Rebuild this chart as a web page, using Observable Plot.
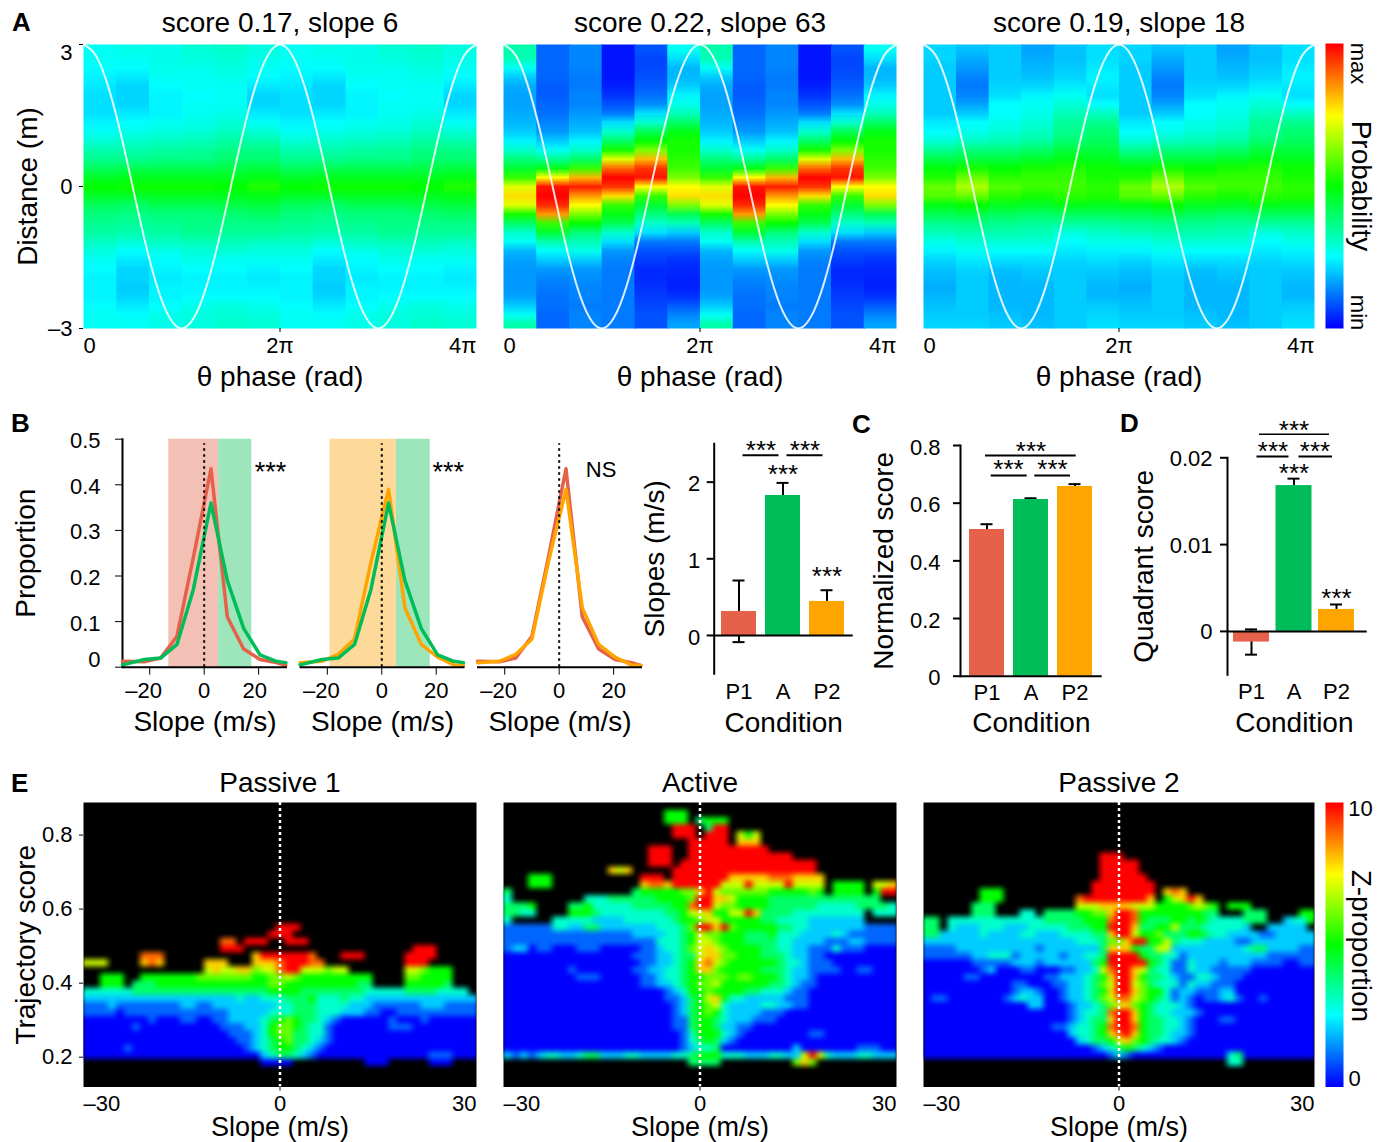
<!DOCTYPE html>
<html><head><meta charset="utf-8">
<script src="https://cdn.jsdelivr.net/npm/d3@7"></script>
<script src="https://cdn.jsdelivr.net/npm/@observablehq/plot@0.6"></script>
<style>html,body{margin:0;padding:0;background:#fff}#root{position:relative;width:1389px;height:1142px;overflow:hidden;font-family:"Liberation Sans",Arial,sans-serif}
.letter{position:absolute;font-weight:bold;font-size:26px;line-height:26px}</style></head>
<body><div id="root"></div>
<script>
// ---------- DATA ----------
const titlesA = ["score 0.17, slope 6","score 0.22, slope 63","score 0.19, slope 18"];
const titlesE = ["Passive 1","Active","Passive 2"];
// panel A: probability (percent of colour range), 6 phase bins x 31 distance bins (3 m to -3 m); the cycle repeats
const a1 = [
[26,26,25,24,23,22,22,22,24,26,29,33,36,41,46,50,46,41,38,36,34,31,28,26,25,24,24,24,25,26,26],
[27,26,25,23,21,21,21,23,25,27,30,33,36,42,47,51,46,40,37,35,33,29,25,23,21,21,20,21,23,25,26],
[27,27,27,26,25,24,24,24,26,28,31,34,37,42,47,51,47,42,38,36,34,31,27,25,24,23,24,24,25,27,27],
[29,28,27,26,26,25,26,26,27,29,32,35,37,42,47,51,47,42,38,37,36,32,29,27,25,24,24,25,27,28,28],
[30,29,28,27,26,26,26,27,29,31,34,37,39,43,47,50,47,43,39,37,35,32,29,26,25,24,24,25,28,29,30],
[28,27,26,25,23,21,21,23,26,29,33,37,39,44,48,53,48,44,40,37,35,31,28,26,24,23,24,25,27,28,29]];
const a2 = [
[33,32,26,20,17,16,16,17,18,20,24,30,38,45,55,72,78,72,52,40,30,26,18,16,15,15,15,16,20,26,33],
[10,10,10,10,9,9,10,11,13,15,20,26,36,48,75,98,100,96,85,55,45,33,25,20,15,13,12,11,11,10,10],
[13,13,13,12,12,13,13,15,17,19,24,30,40,55,82,97,85,75,62,50,38,32,27,20,15,14,13,13,12,13,13],
[2,2,2,2,3,5,8,12,22,30,40,52,72,90,100,95,78,55,48,42,30,22,15,13,12,12,12,12,12,12,12],
[8,7,7,8,9,11,14,22,30,42,50,62,82,95,98,75,55,45,38,30,22,12,8,6,4,4,5,6,7,8,8],
[26,22,18,18,20,24,27,32,40,48,52,52,54,56,62,75,78,62,42,32,20,12,8,5,4,3,3,5,9,13,16]];
const a3 = [
[21,21,20,20,20,20,20,20,23,25,29,36,43,49,53,60,58,48,42,36,32,27,24,21,19,18,17,18,19,20,21],
[19,17,15,13,12,13,16,20,25,27,31,38,44,52,60,67,60,50,43,37,33,29,26,23,21,20,20,20,20,20,21],
[20,20,20,20,21,22,25,25,27,29,32,38,44,50,54,58,54,47,41,36,33,29,25,22,19,18,18,18,18,19,20],
[16,17,18,19,21,24,26,27,29,31,34,40,46,52,55,56,52,46,40,35,32,29,25,22,20,19,18,18,18,18,19],
[19,19,20,21,23,26,29,32,35,36,39,44,48,53,55,56,54,48,41,35,28,25,23,21,20,20,20,20,20,20,20],
[22,22,23,24,23,22,25,31,36,39,41,44,47,51,52,54,53,47,41,35,30,27,24,22,20,19,18,18,20,21,22]];
const thetaX = [0,.125,.25,.375,.5,.625,.75,.875,1,1.125,1.25,1.375,1.5,1.625,1.75,1.875,2,2.125,2.25,2.375,2.5,2.625,2.75,2.875,3,3.125,3.25,3.375,3.5,3.625,3.75,3.875,4];
const thetaY = [3,2.77,2.12,1.15,0,-1.15,-2.12,-2.77,-3,-2.77,-2.12,-1.15,0,1.15,2.12,2.77,3,2.77,2.12,1.15,0,-1.15,-2.12,-2.77,-3,-2.77,-2.12,-1.15,0,1.15,2.12,2.77,3];

// panel B
const slopeX = [-30,-22,-16,-10,-4,2.5,8.5,14.5,20.5,26.5,30];
const propP1 = [.013,.012,.02,.068,.24,.435,.11,.04,.017,.01,.004];
const propA  = [.005,.017,.02,.05,.17,.36,.19,.085,.027,.013,.01];
const propP2 = [.01,.013,.028,.062,.23,.39,.13,.05,.022,.005,.004];
const conds = ["P1","A","P2"];
// panels B (right), C, D
const slopeVal = [.313,1.826,.444], slopeHi = [.717,1.99,.59], slopeLo = [-.087,1.826,.444];
const normVal = [.5087,.6127,.658], normHi = [.527,.617,.666];
const quadVal = [-.00123,.0168,.00253], quadHi = [.00023,.0176,.0031], quadLo = [-.00268,.0168,.00253];

// panel E: Z-proportion levels, 49 slope bins x 40 score bins.
// "." = empty, 0-9, a = 10; "zN" = N zeros; spaces only group cells
const _ = ".".repeat(49);
const e1 = [_,_,_,_,_,_,_,_,_,_,_,_,_,_,_,_,_,
"........................aaa......................",
".......................aaa.......................",
".................99.aaa..aaa.....................",
".................aaa.....................aaa.....",
".......999...........8aaaaaa9...aaa.....aaaa.....",
"777....898.....888...8889aaa99..........aaa......",
"...............7877886779aa777677.......776555...",
"..555..55555556666666556676555555555....665555...",
"..555. 444 55555555555555 66 5555555554 4 .... 555554 ...",
"333333444444444444444445555444444443333344443333.",
"2222222222222222222322333444533343322222222222222",
"1112111111112211222222223344433332221111112221111",
"1111011111111111112222233344433322211001111111111",
"z8 1 000110011 22223 456 544 3 21 z6 1 z3 1 z6",
"z6 1 z10 11122 3566 543 3 1 z7 111 z8",
"z18 1112 3566 443 31 z18",
"z18 0112 3456 443 21 z18",
"z5 1 z13 012 3455 432 10 z18",
"z22 2344 32 1 z14 111 z3",
"......................0000.........000.....000...",
_,_,_];
const e2 = [_,
"....................555.",
"....................555.4555.",
".....................aaa.4aa.",
".....................aaa.aaa.757.",
".......................aaaaa.888.",
"..................aaa..aaaaaaaaaa.",
"..................aaa..aaaaaaaaaaaaa.",
"..................aaa.aaaaaaaaaaaaaaaaa.",
".............878.....aaaaaaaaaaaaaaaaaa.",
"...555...........aaa.aaaaaaa888889998888.",
"...555...........8998aaaaaa777a7777a7777.5555.778",
"4...............455555668a76666665555565.5555.5aa",
"3.........33344444455556aa887555544444444444444..",
"4445....4453333344444559aa76655554444443333344443",
"4433....5554333333334457785577a84444333333333.333",
"3.....333332222333333455677555554433332222222....",
"111111332244222222233346aa8a655555443322222221111",
"1111111111111111222233457665554445333222232111111",
"111111111111111111 13334 5776 5554444 3322221 11221111",
"122 01100011100000 112334 6787 6555544 3322111 3 1110000",
"z15 011122 344 788 66555444 322110 z8",
"z16 011223 4589 7 65555554 33211 100000000",
"0000000 0100 00 0001122 3345 88 655555444 32211 110011 000",
"00000000011100000 112334 556 665665554 3221 z10",
"z16 0112234 5667 5555554 43211 z10",
"z18 00123 556 55554433 32110 z10",
"z18 00112 4578 53322 2221110 z10",
"z19 0012 4567 32222 3322110 z10",
"z20 012 4565 3222211 100 z12",
"z20 011 4554 322211 100 z13",
"z20 011 4554 22110 z17",
"z21 01 3555 3210 z7 11 z9",
"z21 01 3454 21 z20",
"z22 1 2334 z9 2 z7 111 00",
"21212 33 22 344 22 233 222233 4555 3332223322 7a7 322233222",
"....................... 4444 ......... 686 ..........",
_,_,_];
const e3 = [_,_,_,_,_,_,_,
"......................aaa.",
"......................aaaaa.",
"......................aaaaa.",
"......................aaaaaa.",
".....................aaaaaaaa.",
".......555 ........... aaaaaaaa . 898 .",
".......555 ......... 9a aaaaaaa 8 . 57 8a8 .",
"......444 .......... 7778888777 55556765 . 555 .",
"......444 ... 33 . 444 45566 8aa9 5555555544 ... 444 .... 55",
"44 . 3333333333334 4444555 9aa9 544455454 3333 444 .. 233 5",
"44 . 32223332223 333344 455 aaa8 44557 4443 33332 ..2 2222 .",
"442 22223222233 222333 344 8aa7 55 6 444554 33222 211222 222 .",
"222222222222222222 23334 66 8 aa 55 74 33322 22112 2222222",
"1111222222222212222222 4 888 54477 222222 2223 44 222211",
"111111 22333 122 2221 22334 aaaa 54433 12222 222222 111111",
"00000011 111222 1222222 45 aaaaa 54311 322212 22111 10011",
"000000 012 00011000 11223 79 aa 87433 113221 111100 000000",
"00000 1100 0000001122 2345 8aa8 54432 113321 110 00000000",
"z11 1100 0112 23467 aa 764333 13221 110 z9",
"z11 12210 012 2345 8aa 86553 12211 1220 z9",
"0 110 000000 12322 0 0122 3467 99 76543 121 01123 1 00 1 000000",
"z13 22 00 012234 678 65433 321 z15",
"z18 12334 9aa8 543322 21 z14",
"z18 12344 8aa8 5443321 00 011 z10",
"z14 0011 23345 9aa9 544332 1 z15",
"z18 23345 89a8 544322 1 z15",
"z19 2344 5786 54332 1 z16",
"z21 12345432 1 z19",
"z23 121 z12 34 z9",
"...................................... 33 .........",
_,_,_];
const decode = rows => rows.flatMap(r => {
  const t = r.replace(/z(\d+)/g,(m,n)=>"0".repeat(+n)).replace(/ /g,"");
  const s = t.padEnd(49, t[t.length-1]).slice(0,49);
  return Array.from(s, c => c==="." ? NaN : c==="a" ? 1 : +c/10);
});

// ---------- STYLE ----------
const RED="#E5614A", GREEN="#00BD5A", ORANGE="#FFA500";
const jet = d3.piecewise(d3.interpolateRgb, ["#0000ff","#00ffff","#00ff00","#ffff00","#ff0000"]);
const colorScale = {type:"linear",domain:[0,1],interpolate:jet,clamp:true};
const root = document.getElementById("root");
function place(left,top,w,h,m,opts){
  const svg = Plot.plot({width:w,height:h,marginLeft:m[0],marginRight:m[1],marginTop:m[2],marginBottom:m[3],
    style:{background:"transparent",fontFamily:'"Liberation Sans",Arial,sans-serif',fontSize:"22px",overflow:"visible",maxWidth:"none"},...opts});
  svg.style.position="absolute";svg.style.left=left+"px";svg.style.top=top+"px";
  root.appendChild(svg);
}
const lab=(s,frameAnchor,dx,dy,fontSize=28,rotate=0)=>Plot.text([s],{frameAnchor,dx,dy,fontSize,rotate,textAnchor:"middle",lineAnchor:"middle"});
const side=(arr,anchor,dy,textAnchor)=>Plot.text(arr,{x:"v",text:"t",frameAnchor:"bottom",dy,fontSize:22,textAnchor,lineAnchor:"middle"});
function letter(s,x,y){const d=document.createElement("div");d.className="letter";d.textContent=s;d.style.left=x+"px";d.style.top=y+"px";root.appendChild(d);}

// ---------- ROW A ----------
const rowA=[[0,480,83,4,a1],[490,410,13,4,a2],[910,408,13,4,a3]];
rowA.forEach(([left,w,ml,mr,cols],p)=>{
  const marks=[];
  d3.range(12).forEach(k=>marks.push(Plot.raster(cols[k%6],{width:1,height:31,x1:k/3,x2:k===11?4:(k+1)/3+.012,y1:3,y2:-3,fill:d=>d/100,imageRendering:"auto"})));
  marks.push(Plot.line(thetaX.map((x,i)=>({x,y:thetaY[i]})),{x:"x",y:"y",stroke:"white",strokeOpacity:.85,strokeWidth:2,curve:"natural"}));
  marks.push(Plot.axisX({ticks:[2],tickSize:4,tickFormat:()=>"",label:null}));
  marks.push(side([{v:0,t:"0"}],"bottom",17,"start"),side([{v:2,t:"2π"}],"bottom",17,"middle"),side([{v:4,t:"4π"}],"bottom",17,"end"));
  marks.push(lab(titlesA[p],"top",0,-21,28),lab("θ phase (rad)","bottom",0,49));
  if(p===0){
    marks.push(Plot.axisY({ticks:[-3,0,3],tickSize:4,tickPadding:7,label:null,tickFormat:d=>d===3?"":d===0?"0":"–3"}));
    marks.push(Plot.text([3],{y:d=>d,text:()=>"3",frameAnchor:"left",dx:-11,dy:8,fontSize:22,textAnchor:"end",lineAnchor:"middle"}));
    marks.push(lab("Distance (m)","left",-55,0,28,-90));
  }
  place(left,0,w,395,[ml,mr,44,67],{x:{domain:[0,4],axis:null},y:{domain:[-3,3],axis:null},color:colorScale,marks});
});
const ramp=d3.range(0,1.0001,.01);
function colorbar(top,h,mt,mb,texts){
  place(1318,top,71,h,[7,46,mt,mb],{x:{domain:[0,1],axis:null},y:{domain:[0,1],axis:null},color:colorScale,marks:[
    Plot.raster(ramp,{width:1,height:ramp.length,x1:0,x2:1,y1:1,y2:0,fill:d=>1-d,imageRendering:"auto"}),
    ...texts]});
}
const barText=(s,y,dx,size,rotate=90)=>Plot.text([s],{y:()=>y,frameAnchor:"right",dx,fontSize:size,rotate,textAnchor:"middle",lineAnchor:"middle"});
colorbar(0,395,43,67,[barText("max",.93,15,22),barText("Probability",.5,17,28),barText("min",.056,15,22)]);

// ---------- ROW B, lines ----------
const series=v=>slopeX.map((x,i)=>({x,y:v[i]}));
const lineMark=(v,c,w=3.5)=>Plot.line(series(v),{x:"x",y:"y",stroke:c,strokeWidth:w,strokeLinejoin:"round"});
const band=(a,b,fill)=>Plot.rect([0],{x1:()=>a,x2:()=>b,y1:()=>0,y2:()=>.5,fill});
const dotted=Plot.ruleX([0],{y1:0,y2:.49,stroke:"black",strokeWidth:2,strokeDasharray:"2.5,3.5"});
const xLab=(v,t,dx)=>Plot.text([v],{x:d=>d,text:()=>t,frameAnchor:"bottom",dx,dy:24,fontSize:22,lineAnchor:"middle"});
const axisB=(dx20)=>[Plot.ruleY([0],{stroke:"black",strokeWidth:2}),Plot.axisX({ticks:[-20,0,20],tickSize:8,tickFormat:()=>"",label:null}),
  xLab(-20,"–20",-6),xLab(0,"0",0),xLab(20,"20",dx20)];
const starB=(x,y)=>Plot.text(["***"],{x:()=>x,y:()=>y,fontSize:27,dy:4,lineAnchor:"middle"});
const yB={domain:[0,.5],axis:null}, xB={domain:[-30,30.6],axis:null};
place(0,400,295,345,[122,8,38.7,78.3],{x:xB,y:yB,marks:[
  band(-13,5.3,"#F2C0B4"),band(5.3,17.5,"#9DE6BC"),
  Plot.frame({anchor:"left",stroke:"black",strokeWidth:2}),
  lineMark(propP1,RED),lineMark(propA,GREEN),dotted,...axisB(-4),
  Plot.axisY({ticks:[0,.1,.2,.3,.4,.5],tickSize:7,tickFormat:()=>"",label:null}),
  Plot.axisY({ticks:[.1,.2,.3,.4,.5],tickSize:0,tickPadding:22,dy:2,label:null,tickFormat:d3.format(".1f")}),
  Plot.text([0],{y:d=>d,text:()=>"0",frameAnchor:"left",dx:-22,dy:-7,fontSize:22,textAnchor:"end",lineAnchor:"middle"}),
  starB(24.4,.436),lab("Proportion","left",-96,0,28,-90),lab("Slope (m/s)","bottom",0,55)]});
place(295,400,175,345,[4.6,5.4,38.7,78.3],{x:xB,y:yB,marks:[
  band(-19,5.4,"#FDDA9A"),band(5.4,17.8,"#9DE6BC"),
  lineMark(propP2,ORANGE),lineMark(propA,GREEN),dotted,...axisB(0),
  starB(24.4,.436),lab("Slope (m/s)","bottom",0,55)]});
place(470,400,175,345,[7,3,38.7,78.3],{x:xB,y:yB,marks:[
  lineMark(propP1,RED),lineMark(propP2,ORANGE),dotted,...axisB(0),
  Plot.text(["NS"],{x:()=>15.4,y:()=>.433,fontSize:22,lineAnchor:"middle"}),lab("Slope (m/s)","bottom",0,55)]});

// ---------- bars ----------
const colors=[RED,GREEN,ORANGE];
const table=(v,hi,lo)=>conds.map((c,i)=>({c,v:v[i],hi:hi[i],lo:lo?lo[i]:v[i],col:colors[i]}));
function barMarks(t,capInset,ticks,pad,hasLoCaps,xPad,labDy){
  const m=[Plot.ruleX(t,{x:"c",y1:"lo",y2:"hi",stroke:"black",strokeWidth:2}),
    Plot.tickY(t,{x:"c",y:"hi",stroke:"black",strokeWidth:2,insetLeft:capInset,insetRight:capInset})];
  if(hasLoCaps) m.push(Plot.tickY(t.slice(0,1),{x:"c",y:"lo",stroke:"black",strokeWidth:2,insetLeft:capInset,insetRight:capInset}));
  m.push(Plot.barY(t,{x:"c",y:"v",fill:d=>d.col}),
    Plot.frame({anchor:"left",stroke:"black",strokeWidth:2}),
    Plot.ruleY([0],{stroke:"black",strokeWidth:2}),
    Plot.axisY({ticks,tickSize:7,strokeWidth:2,label:null,tickFormat:()=>""}),
    Plot.axisY({ticks,tickSize:0,tickPadding:7+pad,dy:labDy,label:null,tickFormat:d=>String(d)}),
    Plot.axisX({tickSize:0,tickPadding:xPad,label:null}));
  return m;
}
const sig=(a,b,y,iL,iR,w=2)=>Plot.ruleY([y],{x1:()=>a,x2:()=>b,insetLeft:iL,insetRight:iR,stroke:"black",strokeWidth:w});
const stars=(c,y,dx=0)=>Plot.text(["***"],{x:()=>c,y:()=>y,dx,dy:4,fontSize:26,lineAnchor:"middle"});

place(645,400,215,345,[68.7,7.3,43.3,71.7],{
  x:{type:"band",domain:conds,range:[71.5,203.5],paddingInner:.2045,paddingOuter:.102,align:.5,round:false,axis:null},
  y:{domain:[-.5,2.5],axis:null},color:{type:"identity"},
  marks:[...barMarks(table(slopeVal,slopeHi,slopeLo),11.5,[0,1,2],7,true,10,2),
    sig("P1","A",2.35,21.5,21.5),sig("A","P2",2.35,21.5,21.5),
    stars("P1",2.466,22),stars("A",2.466,22),stars("A",2.153),stars("P2",.813),
    lab("Slopes (m/s)","left",-58.7,0,28,-90),lab("Condition","bottom",0,49.7)]});

place(865,400,245,345,[95,8.3,45,69.3],{
  x:{type:"band",domain:conds,range:[99.5,231.5],paddingInner:.2045,paddingOuter:.102,align:.5,round:false,axis:null},
  y:{domain:[0,.8],axis:null},color:{type:"identity"},
  marks:[...barMarks(table(normVal,normHi),11.5,[0,.2,.4,.6,.8],13,false,8,2),
    sig("P1","P2",.765,16,16.3),sig("P1","A",.696,21.7,21.3),sig("A","P2",.696,21.3,22),
    stars("A",.794),stars("P1",.73,21.5),stars("A",.73,21.5),
    lab("Normalized score","left",-76,0,28,-90),lab("Condition","bottom",0,47.3)]});

place(1115,400,260,345,[112,8.3,57.3,70.7],{
  x:{type:"band",domain:conds,range:[114.75,242.25],paddingInner:.153,paddingOuter:.0765,align:.5,round:false,axis:null},
  y:{domain:[-.005,.02],axis:null},color:{type:"identity"},
  marks:[...barMarks(table(quadVal,quadHi,quadLo),12,[0,.01,.02],8,true,9,1),
    sig("P1","P2",.0227,26,25,1.5),sig("P1","A",.02015,23.5,23),sig("A","P2",.02015,23,22),
    stars("A",.0236),stars("P1",.0212,21.5),stars("A",.0212,21),stars("A",.01865),stars("P2",.00418),
    lab("Quadrant score","left",-83,0,28,-90),Plot.text(["Condition"],{frameAnchor:"bottom",dx:-3,dy:48.7,fontSize:28,textAnchor:"middle",lineAnchor:"middle"})]});

// ---------- ROW E ----------
[[0,480,83,4,e1],[490,410,13,4,e2],[910,408,13,4,e3]].forEach(([left,w,ml,mr,rows],p)=>{
  const marks=[Plot.frame({fill:"black"}),
    Plot.raster(decode(rows),{width:49,height:40,x1:-30,x2:30,y1:.888,y2:.1195,fill:d=>d,imageRendering:"auto",imageFilter:"blur(1.6px)",clip:"frame"}),
    Plot.ruleX([0],{stroke:"white",strokeWidth:2.5,strokeDasharray:"3,3"}),
    Plot.axisX({ticks:[0],tickSize:4,tickFormat:()=>"",label:null}),
    side([{v:-30,t:"–30"}],"bottom",17,"start"),side([{v:0,t:"0"}],"bottom",17,"middle"),side([{v:30,t:"30"}],"bottom",17,"end"),
    lab(titlesE[p],"top",0,-19,28),lab("Slope (m/s)","bottom",0,40.5,27)];
  if(p===0){
    marks.push(Plot.axisY({ticks:[.2,.4,.6,.8],tickSize:4,tickPadding:7,label:null,tickFormat:d3.format(".1f")}));
    marks.push(lab("Trajectory score","left",-57,0,28,-90));
  }
  place(left,760,w,382,[ml,mr,42,55.5],{x:{domain:[-30,30],axis:null},y:{domain:[.1195,.888],axis:null},color:colorScale,marks});
});
colorbar(760,382,42,55.5,[barText("10",.979,17,22,0),barText("0",.028,11,22,0),barText("Z-proportion",.496,17,28)]);

letter("A",12,9);letter("B",11,410);letter("C",852,411);letter("D",1120,410);letter("E",11,770);
</script></body></html>
